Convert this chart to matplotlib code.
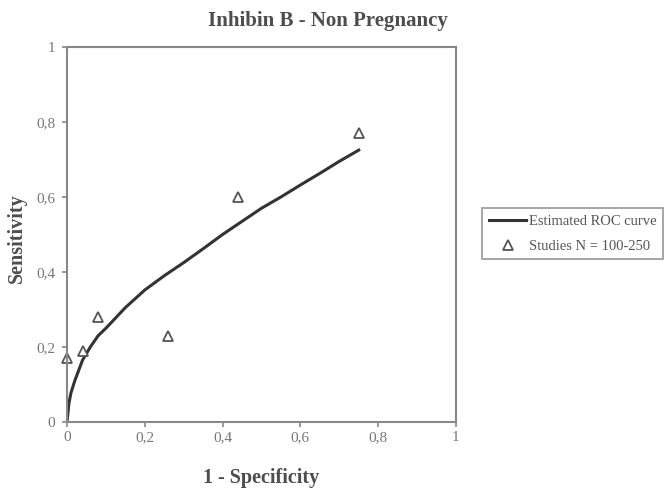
import matplotlib
matplotlib.use('Agg')
import matplotlib.pyplot as plt

# estimated ROC curve
roc_x = [0, 0.005, 0.01, 0.02, 0.04, 0.06, 0.08, 0.1, 0.15, 0.2, 0.25, 0.3,
         0.35, 0.4, 0.45, 0.5, 0.55, 0.6, 0.65, 0.7, 0.75]
roc_y = [0, 0.05, 0.077, 0.11, 0.165, 0.20, 0.23, 0.25, 0.305, 0.352, 0.39,
         0.425, 0.462, 0.50, 0.535, 0.57, 0.60, 0.632, 0.663, 0.695, 0.725]

# individual studies
study_x = [0, 0.04, 0.08, 0.26, 0.44, 0.75]
study_y = [0.17, 0.19, 0.28, 0.23, 0.60, 0.77]

ticks = [0, 0.2, 0.4, 0.6, 0.8, 1]
tick_labels = ['0', '0,2', '0,4', '0,6', '0,8', '1']

plt.rcParams['font.family'] = ['Liberation Serif', 'DejaVu Serif']

fig = plt.figure(figsize=(6.68, 4.92), dpi=100)
ax = fig.add_axes([0.1003, 0.1423, 0.5823, 0.7622])

ax.plot(roc_x, roc_y, color='#333333', lw=2.2, label='Estimated ROC curve')
ax.plot(study_x, study_y, ls='none', marker='^', ms=7, mfc='white',
        mec='#555555', mew=1.3, label='Studies N = 100-250', clip_on=False)

ax.set_xlim(0, 1)
ax.set_ylim(0, 1)
ax.set_xticks(ticks)
ax.set_xticklabels(tick_labels)
ax.set_yticks(ticks)
ax.set_yticklabels(tick_labels)
ax.tick_params(colors='#888888', labelcolor='#777777', labelsize=11,
               length=3.6, width=1.2)
ax.tick_params(axis='x', pad=3)
ax.tick_params(axis='y', pad=5)
for s in ax.spines.values():
    s.set_color('#888888')
    s.set_linewidth(1.5)

ax.set_xlabel('1 - Specificity', fontsize=14.5, fontweight='bold',
              color='#4d4d4d', va='center')
ax.set_ylabel('Sensitivity', fontsize=14.5, fontweight='bold',
              color='#4d4d4d', va='center')
ax.xaxis.set_label_coords(0.5, (422 - 478) / 375)
ax.yaxis.set_label_coords((17 - 67) / 389, 0.49)

fig.text(0.491, 0.958, 'Inhibin B - Non Pregnancy', ha='center', va='center',
         fontsize=15, fontweight='bold', color='#4d4d4d')

leg = fig.legend(loc='upper left', bbox_to_anchor=(482 / 668, 1 - 208 / 492),
                 fontsize=10.5, frameon=True, fancybox=False, borderpad=0.45,
                 handlelength=2.6, handletextpad=0.15, labelspacing=0.8,
                 borderaxespad=0)
leg.get_frame().set_edgecolor('#888888')
leg.get_frame().set_linewidth(1.3)
for t in leg.get_texts():
    t.set_color('#555555')

plt.savefig('out.png', dpi=100)
